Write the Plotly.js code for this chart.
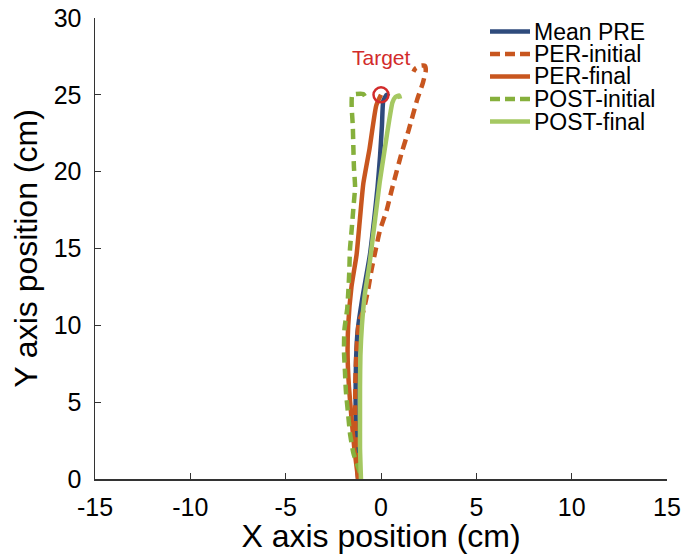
<!DOCTYPE html>
<html>
<head>
<meta charset="utf-8">
<script src="https://cdn.plot.ly/plotly-3.0.1.min.js"></script>
<style>html,body{margin:0;padding:0;background:#fff;}#chart{width:681px;height:554px;}</style>
</head>
<body>
<div id="chart"></div>
<script>
// Mean PRE
const preX = [-1.2,-1.3,-1.33,-1.33,-1.3,-1.22,-1.0,-0.58,-0.35,-0.18,-0.05,0.05,0.12,0.3,0.4];
const preY = [0,2,4,6,8,9.7,11.6,14.6,17,19,21,23,24.6,25.0,24.9];
// PER-initial
const perIniX = [-1.2,-1.3,-1.35,-1.35,-1.3,-1.15,-0.93,-0.68,-0.5,-0.3,-0.05,0.3,0.56,1.1,1.45,1.9,2.2,2.35,2.3,2.1,1.8,1.7];
const perIniY = [0,2,4,6,8,10.3,10.9,12.3,13.6,14.8,16.2,17.5,18.8,21.3,22.7,24.7,25.8,26.6,26.9,26.9,26.7,26.5];
// PER-final
const perFinX = [-1.2,-1.4,-1.55,-1.68,-1.75,-1.72,-1.55,-1.28,-1.1,-0.93,-0.6,-0.25,0];
const perFinY = [0,2,4,6,8,10,12.5,14.6,17,19.2,21.5,24.3,25];
// POST-initial
const postIniX = [-1.1,-1.45,-1.63,-1.73,-1.84,-1.89,-1.94,-1.92,-1.77,-1.71,-1.66,-1.63,-1.54,-1.45,-1.36,-1.42,-1.45,-1.48,-1.54,-1.5,-0.93,-0.84];
const postIniY = [0.4,1.7,3.0,4.3,5.7,7.0,8.3,9.7,11.1,12.3,13.6,14.9,16.2,17.6,19.0,20.3,21.6,23.0,24.3,25.0,25.05,24.9];
// POST-final
const postFinX = [-1.05,-1.1,-1.1,-1.1,-1.08,-1.0,-0.85,-0.6,-0.4,-0.2,-0.07,0.2,0.45,0.6,0.75,0.95,1.0];
const postFinY = [0,2,4,6,8,10,12,14,16,18,19.3,21.5,23.5,24.5,24.85,24.95,24.75];
// Target
const targetX = [0];
const targetY = [25];
const targetLabel = "Target";

const seriesNames = ['Mean PRE', 'PER-initial', 'PER-final', 'POST-initial', 'POST-final'];
const xTicks = [-15,-10,-5,0,5,10,15];
const yTicks = [0,5,10,15,20,25,30];

const cPre = '#2F4B7C', cPer = '#C8561F', cPostIni = '#86B03C', cPostFin = '#A5C862';
const seriesColors = [cPre, cPer, cPer, cPostIni, cPostFin];
const seriesDash = ['solid', '10px,6px', 'solid', '10px,6px', 'solid'];
const font = 'Liberation Sans, Arial, sans-serif';

const series = [[preX, preY], [perIniX, perIniY], [perFinX, perFinY], [postIniX, postIniY], [postFinX, postFinY]];
const traces = series.map((s, i) => ({
  x: s[0], y: s[1], name: seriesNames[i], mode: 'lines', showlegend: false,
  line: {color: seriesColors[i], width: 4.5, dash: seriesDash[i], shape: 'spline', smoothing: 0.5}
}));
traces.push({x: targetX, y: targetY, mode: 'markers', showlegend: false,
   marker: {symbol: 'circle-open', size: 15, color: '#D22B2B', line: {width: 2.5, color: '#D22B2B'}}});

// custom legend (compact spacing like the reference)
const L = 95, R = 667, T = 18, B = 479;
const px2x = p => (p - L) / (R - L);
const py2y = p => (B - p) / (B - T);
const legendY0 = 31.5, legendDy = 22.5;
const shapes = [], annotations = [];
seriesNames.forEach((n, i) => {
  const py = legendY0 + i * legendDy;
  shapes.push({type: 'line', xref: 'paper', yref: 'paper', x0: px2x(490), x1: px2x(530), y0: py2y(py), y1: py2y(py),
               line: {color: seriesColors[i], width: 4.5, dash: seriesDash[i] === 'solid' ? 'solid' : '10px,5px'}});
  annotations.push({xref: 'paper', yref: 'paper', x: px2x(533), y: py2y(py), xanchor: 'left', yanchor: 'middle',
                    text: n, showarrow: false, height: 20, borderpad: 0, valign: 'middle',
                    font: {size: 23, family: font, color: '#000'}});
});
annotations.push({x: targetX[0], y: targetY[0], text: targetLabel, showarrow: false,
                  yshift: 37, font: {size: 21, color: '#D22B2B', family: font}});

const layout = {
  width: 681, height: 554,
  margin: {l: L, r: 681 - R, t: T, b: 554 - B},
  paper_bgcolor: '#fff', plot_bgcolor: '#fff',
  font: {family: font, color: '#000', size: 25},
  showlegend: false,
  xaxis: {range: [-15, 15], tickvals: xTicks, ticktext: xTicks.map(String),
          showgrid: false, zeroline: false, showline: true, linecolor: '#333', linewidth: 1.5,
          ticks: 'inside', ticklen: 6, tickcolor: '#333', tickfont: {size: 25}, ticklabelstandoff: 5,
          ticklabeloverflow: 'allow',
          title: {text: 'X axis position (cm)', font: {size: 32}, standoff: 3}},
  yaxis: {range: [0, 30], tickvals: yTicks, ticktext: yTicks.map(String),
          showgrid: false, zeroline: false, showline: true, linecolor: '#333', linewidth: 1.5,
          ticks: 'inside', ticklen: 6, tickcolor: '#333', tickfont: {size: 25}, ticklabelstandoff: 7,
          ticklabeloverflow: 'allow',
          title: {text: 'Y axis position (cm)', font: {size: 32}, standoff: 6}},
  shapes: shapes,
  annotations: annotations
};

Plotly.newPlot('chart', traces, layout, {displayModeBar: false, staticPlot: true});
</script>
</body>
</html>
